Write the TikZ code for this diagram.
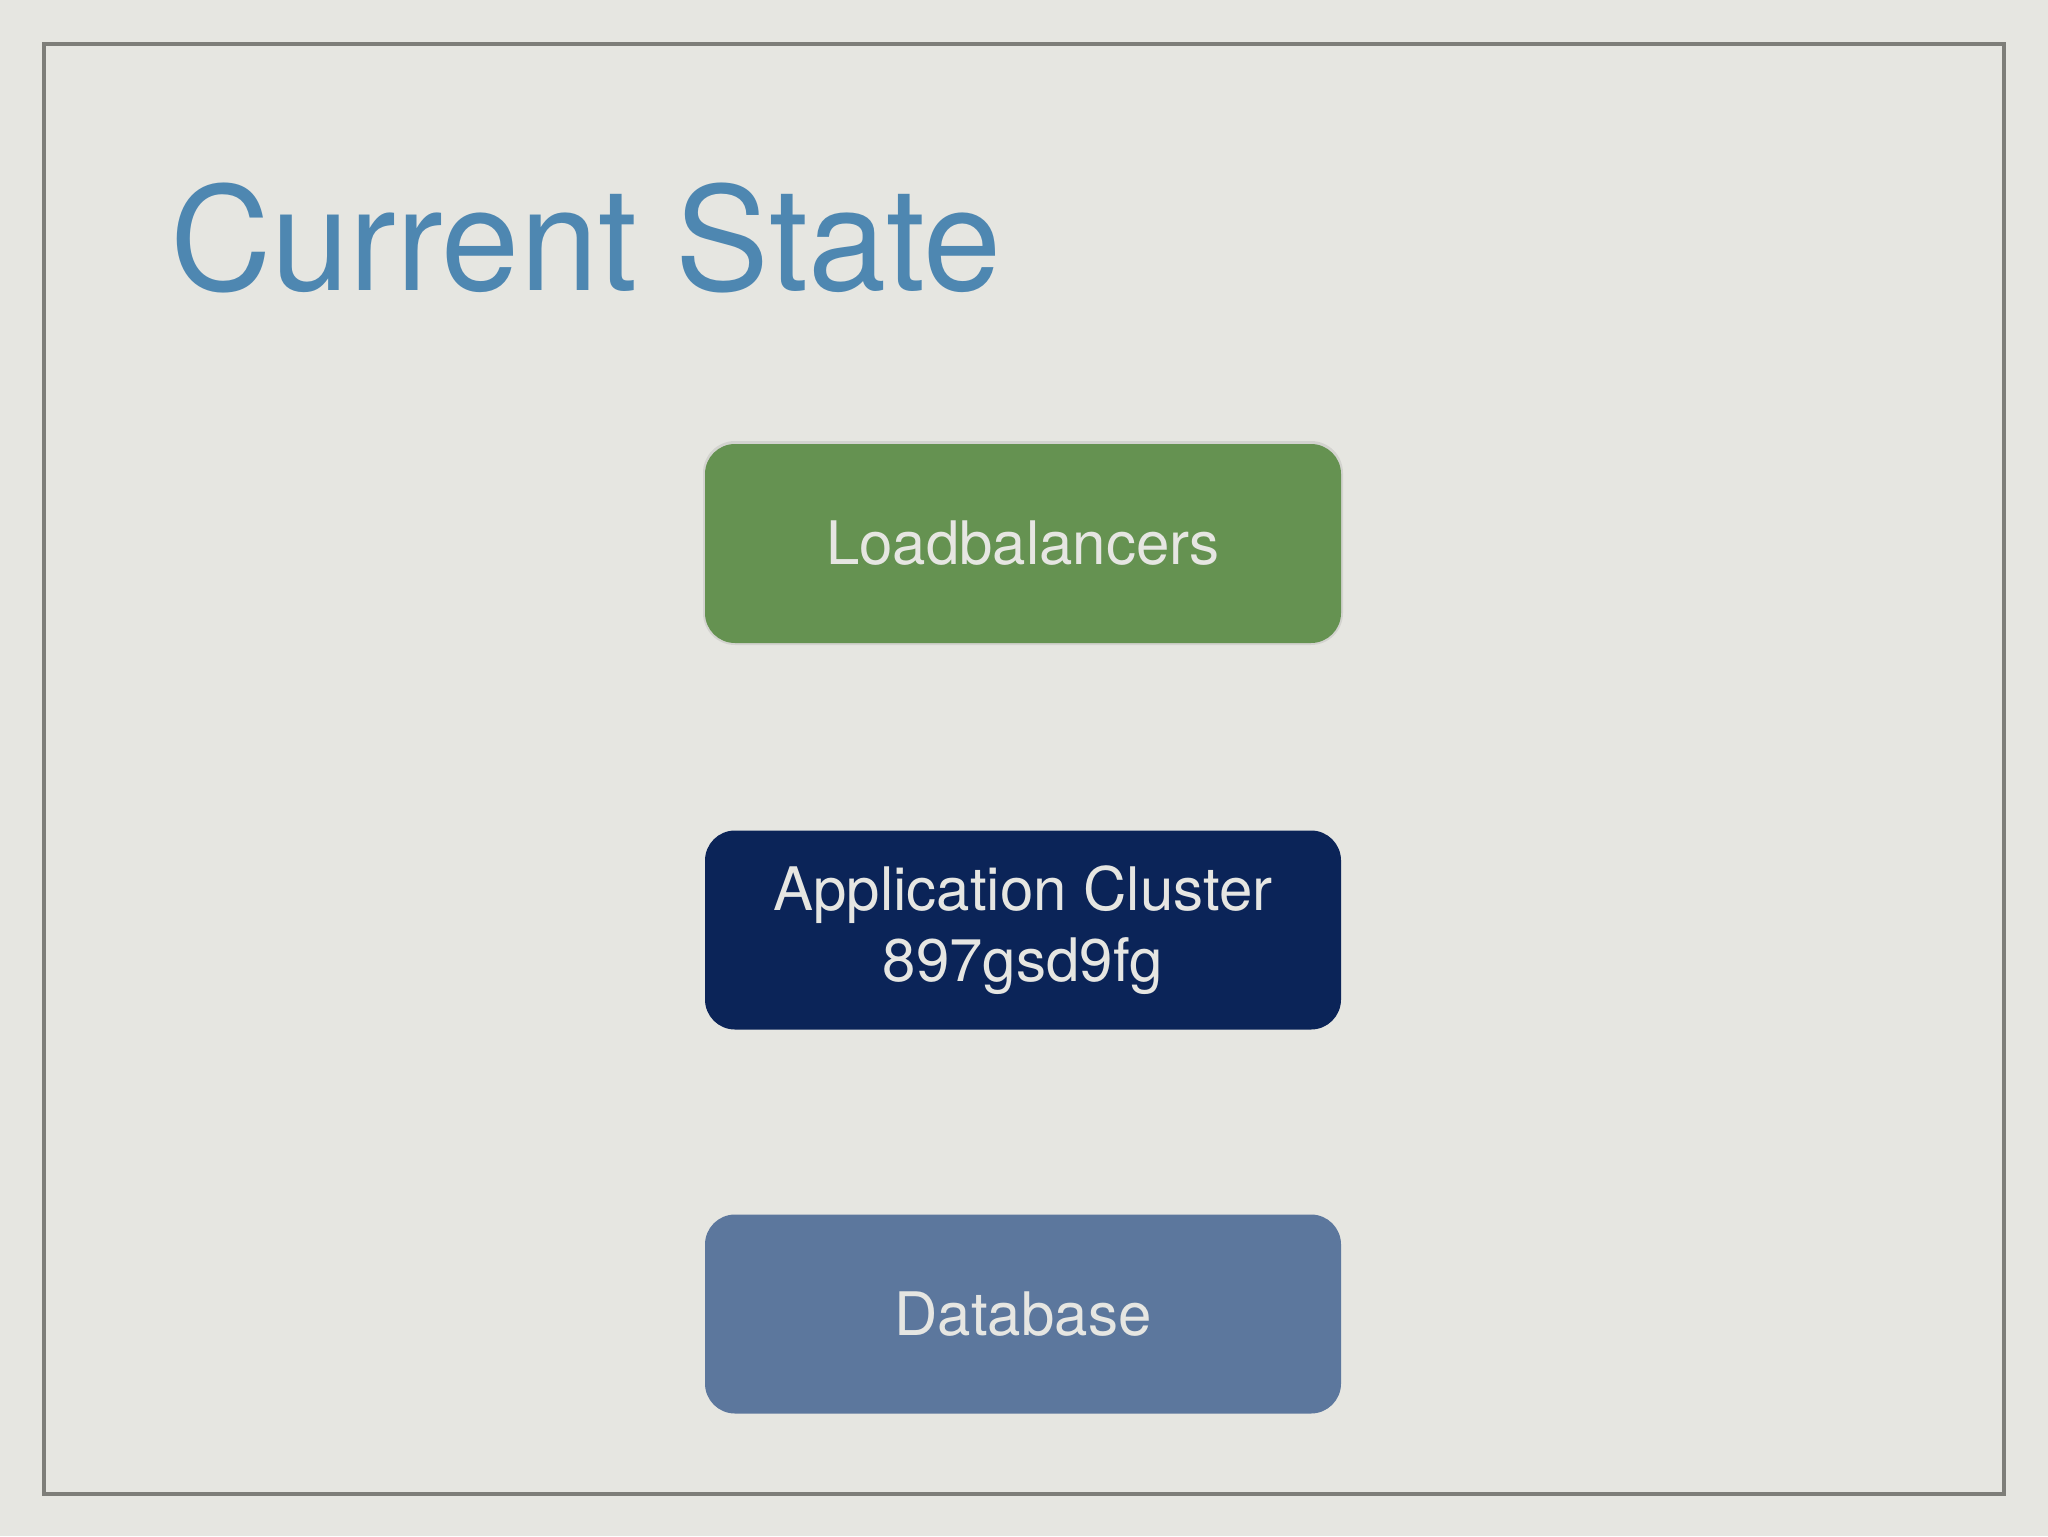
\documentclass[tikz,border=0pt]{standalone}
\usepackage{fontspec}
\setmainfont{TeX Gyre Heros}
\newfontfamily\titlefont[FakeStretch=0.975]{TeX Gyre Heros}
\definecolor{bgcol}{HTML}{E6E6E1}
\definecolor{framecol}{HTML}{7E7E79}
\definecolor{titlecol}{HTML}{4E87B1}
\definecolor{lbcol}{HTML}{659251}
\definecolor{appcol}{HTML}{0B2458}
\definecolor{dbcol}{HTML}{5C779D}
\definecolor{txtcol}{HTML}{E6E6E2}
\begin{document}
\begin{tikzpicture}[x=0.5pt,y=-0.5pt,
  boxstyle/.style={rounded corners=15pt, minimum width=318pt, minimum height=99.5pt,
    inner sep=0pt, align=center, text=txtcol,
    font=\fontsize{30}{35.5}\selectfont}]
\useasboundingbox (0,0) rectangle (2048,1536);
\fill[bgcol] (0,0) rectangle (2048,1536);
\draw[framecol, line width=1.8pt] (44,44) rectangle (2004,1494);
\node[anchor=base west, inner sep=0pt, text=titlecol, font=\titlefont\fontsize{72}{80}\selectfont] (title) at (170,290) {Current State};
\fill[black, opacity=0.08, rounded corners=16pt] (703,441) rectangle (1343,645);
\node[boxstyle, fill=lbcol] (lb) at (1023,543.5) {Loadbalancers};
\node[boxstyle, fill=appcol] (app) at (1023,930) {Application Cluster\\897gsd9fg};
\node[boxstyle, fill=dbcol] (db) at (1023,1314) {Database};
\end{tikzpicture}
\end{document}
